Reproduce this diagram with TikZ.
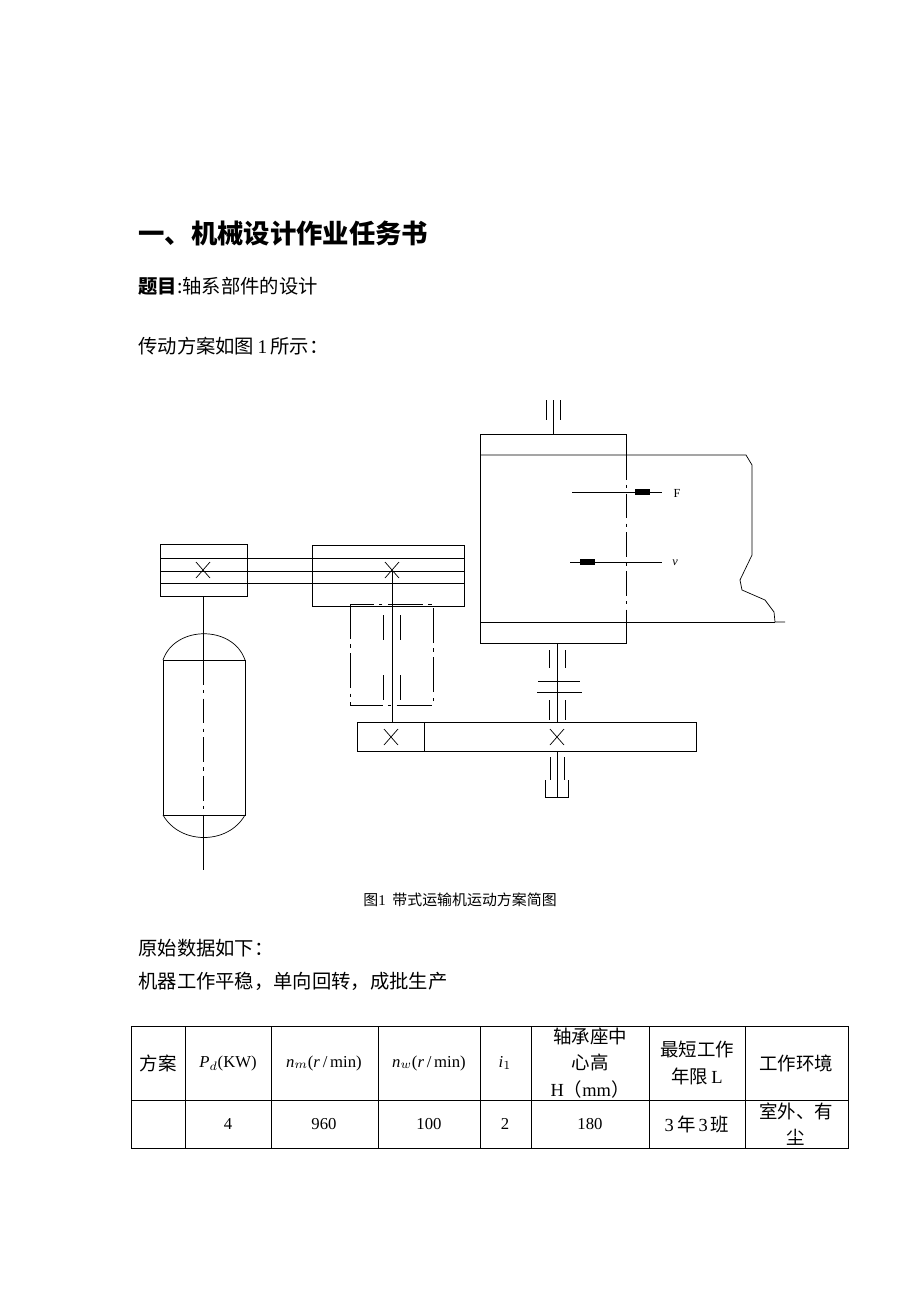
\documentclass[tikz,border=0pt]{standalone}
\usepackage{fontspec}
\setmainfont{Liberation Serif}
\newfontfamily\cjk{Noto Sans CJK SC}
\usetikzlibrary{positioning}
\tikzset{
  txt/.style={anchor=west, inner sep=0pt, font=\cjk\fontsize{11}{13}\selectfont},
  cell/.style={align=center, inner sep=0pt, font=\cjk\fontsize{10.5}{15}\selectfont},
  mcell/.style={align=center, inner sep=0pt, font=\rmfamily\fontsize{9.5}{12}\selectfont},
  part/.style={draw, thin},
  axis/.style={thin, dash pattern=on 14pt off 3pt on 2pt off 3pt},
  cross/.style={thin}
}
\newcommand{\xmark}[2]{\draw[cross] (#1-7,#2-8) -- (#1+7,#2+8) (#1-7,#2+8) -- (#1+7,#2-8);}
\begin{document}
\begin{tikzpicture}[x=0.02cm, y=-0.02cm]
\useasboundingbox (0,0) rectangle (920,1302);
% texts
\node[txt, font=\cjk\bfseries\fontsize{15}{18}\selectfont] (title) at (138,234) {一、机械设计作业任务书};
\node[txt] (topic) at (138,286) {\textbf{题目}:轴系部件的设计};
\node[txt] (plan) at (138,346) {传动方案如图\,{\rmfamily 1}\,所示：};
\node[txt, font=\cjk\fontsize{8.5}{10}\selectfont, anchor=center] (cap) at (460,900) {图{\rmfamily 1}\ \ 带式运输机运动方案简图};
\node[txt] (data) at (138,948) {原始数据如下：};
\node[txt] (cond) at (138,981) {机器工作平稳，单向回转，成批生产};
% belt pulleys
\draw[part] (160,544) rectangle (247,596);
\draw[part] (312,545) rectangle (464,606);
\draw[thin] (160,558) -- (464,558) (160,571) -- (464,571) (160,583) -- (464,583);
\xmark{203}{570}
\xmark{392}{570}
% motor
\draw[thin] (203,596) -- (203,660) (203,815) -- (203,870);
\draw[axis] (203,660) -- (203,815);
\draw[part] (163,660) rectangle (245,815);
\draw[thin] (163,660) .. controls (175,625) and (233,625) .. (245,660);
\draw[thin] (163,815) .. controls (180,845) and (228,845) .. (245,815);
% reducer (dash dot) and shaft
\draw[thin, dash pattern=on 20pt off 3pt on 2pt off 3pt] (350,604) rectangle (433,705);
\draw[thin] (392,571) -- (392,722);
\draw[thin] (383,615) -- (383,640) (400,615) -- (400,640);
\draw[thin] (383,675) -- (383,700) (400,675) -- (400,700);
% gear stage
\draw[part] (357,722) rectangle (696,751);
\draw[thin] (424,722) -- (424,751);
\xmark{391}{737}
\xmark{557}{737}
% output shaft and coupling
\draw[thin] (557,643) -- (557,722);
\draw[thin] (549,650) -- (549,668) (565,650) -- (565,668);
\draw[thin] (538,681) -- (580,681) (537,692) -- (582,692);
\draw[thin] (549,700) -- (549,720) (565,700) -- (565,720);
\draw[thin] (557,751) -- (557,797);
\draw[thin] (550,757) -- (550,780) (564,757) -- (564,780);
\draw[thin] (545,780) -- (545,797) -- (568,797) -- (568,780);
% drum and belt
\draw[thin] (553,400) -- (553,434);
\draw[thin] (546,400) -- (546,420) (560,400) -- (560,420);
\draw[thin] (626,455) -- (626,434) -- (480,434) -- (480,643) -- (626,643) -- (626,622);
\draw[axis] (626,455) -- (626,622);
\draw[thin] (480,455) -- (746,455) -- (752,465) -- (752,555) -- (740,580) -- (742,590) -- (765,600) -- (774,612) -- (775,622) -- (785,622);
\draw[thin] (480,622) -- (775,622);
% force and velocity
\draw[thin] (572,492) -- (662,492);
\fill (635,489) rectangle (650,495);
\node[font=\fontsize{7}{8}\selectfont] (F) at (677,493) {F};
\draw[thin] (570,562) -- (662,562);
\fill (580,559) rectangle (595,565);
\node[font=\itshape\fontsize{7}{8}\selectfont] (v) at (675,563) {v};
% table
\draw[thin] (131,1026) rectangle (848,1148);
\draw[thin] (131,1100) -- (848,1100);
\foreach \cx in {185,271,378,480,531,649,745} \draw[thin] (\cx,1026) -- (\cx,1148);
\node[cell] (h1) at (158,1063) {方案};
\node[mcell] (h2) at (228,1063) {\textit{P}$_d$(KW)};
\node[mcell] (h3) at (324,1063) {\textit{n}$_m$(\textit{r}\,/\,min)};
\node[mcell] (h4) at (429,1063) {\textit{n}$_w$(\textit{r}\,/\,min)};
\node[mcell] (h5) at (505,1063) {\textit{i}$_1$};
\node[cell] (h6) at (590,1063) {轴承座中\\心高\\{\rmfamily H}（{\rmfamily mm}）};
\node[cell] (h7) at (697,1063) {最短工作\\年限{\rmfamily\,L}};
\node[cell] (h8) at (796,1063) {工作环境};
\node[mcell] (d2) at (228,1124) {4};
\node[mcell] (d3) at (324,1124) {960};
\node[mcell] (d4) at (429,1124) {100};
\node[mcell] (d5) at (505,1124) {2};
\node[mcell] (d6) at (590,1124) {180};
\node[cell] (d7) at (697,1124) {{\rmfamily 3\,}年{\rmfamily\,3\,}班};
\node[cell] (d8) at (796,1124) {室外、有\\尘};
\end{tikzpicture}
\end{document}
